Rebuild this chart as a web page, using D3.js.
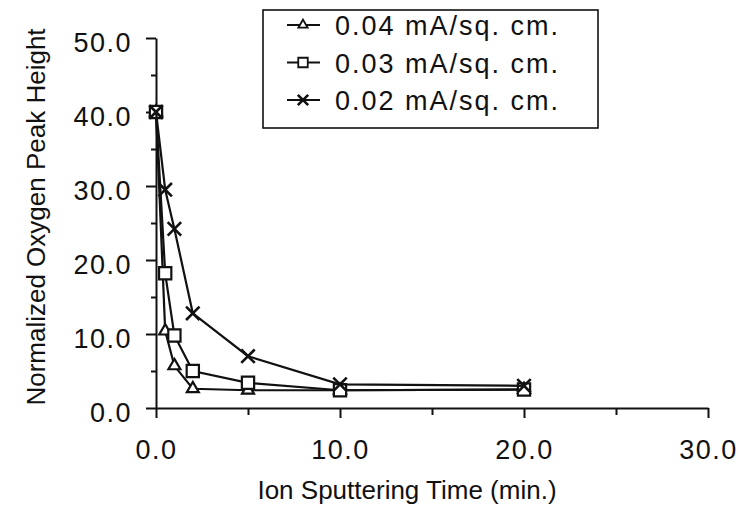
<!DOCTYPE html>
<html>
<head>
<meta charset="utf-8">
<script src="https://cdn.jsdelivr.net/npm/d3@7"></script>
<style>
  body { margin: 0; background: #fff; }
  text { font-family: "Liberation Sans", Arial, sans-serif; fill: #111; }
</style>
</head>
<body>
<svg width="743" height="508"></svg>
<script>
// values
const times = [0, 0.5, 1, 2, 5, 10, 20]
const ma04 = [40, 10.4, 5.7, 2.6, 2.4, 2.4, 2.5]
const ma03 = [40, 18.2, 9.8, 5.0, 3.4, 2.4, 2.5]
const ma02 = [40, 29.5, 24.2, 12.8, 7.0, 3.2, 3.0]
const seriesNames = ["0.04 mA/sq. cm.", "0.03 mA/sq. cm.", "0.02 mA/sq. cm."]
const xTicks = [0, 10, 20, 30]
const xMinor = [5, 15, 25]
const yTicks = [0, 10, 20, 30, 40, 50]
const yMinor = [5, 15, 25, 35, 45]

const svg = d3.select("svg")
const fmt = d3.format(".1f")

const x = d3.scaleLinear().domain([0, 30]).range([156, 708])
const y = d3.scaleLinear().domain([0, 50]).range([408, 38])

const symTimes = d3.symbolTimes || d3.symbolCross
const series = [
  { name: seriesNames[0], vals: ma04, sym: d3.symbolTriangle, size: 62 },
  { name: seriesNames[1], vals: ma03, sym: d3.symbolSquare, size: 150 },
  { name: seriesNames[2], vals: ma02, sym: symTimes, size: 120 }
]

// axes
const xAxis = svg.append("g")
  .attr("transform", `translate(0, ${y(0)})`)
  .call(d3.axisBottom(x).tickValues(xTicks).tickSize(10).tickSizeOuter(0)
    .tickPadding(22).tickFormat(fmt))
svg.append("g")
  .attr("transform", `translate(0, ${y(0)})`)
  .call(d3.axisBottom(x).tickValues(xMinor).tickSize(7).tickFormat(""))
  .select(".domain").remove()

const yAxis = svg.append("g")
  .attr("transform", `translate(${x(0)}, 0)`)
  .call(d3.axisLeft(y).tickValues(yTicks).tickSize(10).tickSizeOuter(0)
    .tickPadding(14).tickFormat(fmt))
svg.append("g")
  .attr("transform", `translate(${x(0)}, 0)`)
  .call(d3.axisLeft(y).tickValues(yMinor).tickSize(5).tickFormat(""))
  .select(".domain").remove()

svg.selectAll(".domain, .tick line")
  .attr("stroke", "#111")
  .attr("stroke-width", 2)

svg.selectAll(".tick text")
  .attr("font-size", 27)
  .attr("letter-spacing", 1.5)
  .attr("font-family", "Liberation Sans, Arial, sans-serif")
  .attr("fill", "#111")
yAxis.selectAll(".tick text").attr("dy", "0.5em")

// axis titles
svg.append("text")
  .attr("x", 407)
  .attr("y", 499)
  .attr("text-anchor", "middle")
  .attr("font-size", 26)
  .text("Ion Sputtering Time (min.)")

svg.append("text")
  .attr("transform", `translate(45, ${(y(0) + y(50)) / 2 - 6}) rotate(-90)`)
  .attr("text-anchor", "middle")
  .attr("font-size", 26)
  .text("Normalized Oxygen Peak Height")

// lines and markers
const line = d3.line()
  .x(d => x(d[0]))
  .y(d => y(d[1]))

series.forEach(s => {
  const pts = times.map((t, i) => [t, s.vals[i]])
  svg.append("path")
    .datum(pts)
    .attr("d", line)
    .attr("fill", "none")
    .attr("stroke", "#111")
    .attr("stroke-width", 2.2)

  svg.append("g").selectAll("path")
    .data(pts)
    .join("path")
    .attr("transform", d => `translate(${x(d[0])}, ${y(d[1])})`)
    .attr("d", d3.symbol().type(s.sym).size(s.size))
    .attr("fill", "#fff")
    .attr("stroke", "#111")
    .attr("stroke-width", s.sym === symTimes ? 2.6 : 2.2)
})

// legend
const legend = svg.append("g")
legend.append("rect")
  .attr("x", 263).attr("y", 10)
  .attr("width", 335).attr("height", 118)
  .attr("fill", "#fff")
  .attr("stroke", "#111")
  .attr("stroke-width", 1.6)

series.forEach((s, i) => {
  const ly = 25 + i * 37.5
  legend.append("line")
    .attr("x1", 287).attr("x2", 320)
    .attr("y1", ly).attr("y2", ly)
    .attr("stroke", "#111")
    .attr("stroke-width", 2)
  legend.append("path")
    .attr("transform", `translate(303, ${ly})`)
    .attr("d", d3.symbol().type(s.sym).size(s.size * 0.6))
    .attr("fill", "#fff")
    .attr("stroke", "#111")
    .attr("stroke-width", s.sym === symTimes ? 2.6 : 1.8)
  legend.append("text")
    .attr("x", 335)
    .attr("y", ly + 10)
    .attr("font-size", 27)
    .attr("letter-spacing", 2)
    .text(s.name)
})
</script>
</body>
</html>
